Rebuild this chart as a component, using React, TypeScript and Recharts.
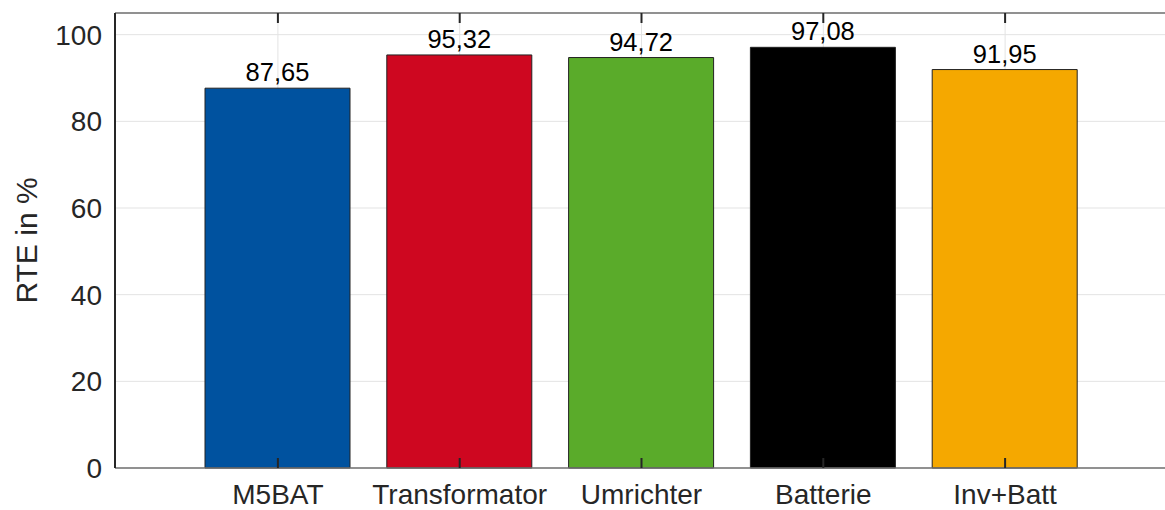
import { BarChart, Bar, XAxis, YAxis, CartesianGrid, Cell, LabelList } from 'recharts';

const categories = ['M5BAT', 'Transformator', 'Umrichter', 'Batterie', 'Inv+Batt'];
const rteValues = [87.65, 95.32, 94.72, 97.08, 91.95];
const barColors = ['#00529F', '#CE0720', '#5AAB2A', '#000000', '#F5A800'];
const yTicks = [0, 20, 40, 60, 80, 100];

const data = categories.map((name, i) => ({ name, rte: rteValues[i] }));

const FONT = '"Liberation Sans", Arial, sans-serif';
const TEXT = '#262626';

const fmt = (v: any) => Number(v).toFixed(2).replace('.', ',');
const blank = () => '';

export default function App() {
  return (
    <div style={{ position: 'absolute', left: 0, top: 0, width: 1165, height: 510, overflow: 'hidden', background: '#fff' }}>
      <BarChart
        width={1175}
        height={510}
        data={data}
        margin={{ top: 13, right: 7, bottom: 0, left: 0 }}
        style={{ fontFamily: FONT }}
      >
        <CartesianGrid stroke="#e3e3e3" strokeWidth={1} />
        <Bar dataKey="rte" barSize={145} stroke="#222" strokeWidth={1} isAnimationActive={false}>
          {data.map((d, i) => (
            <Cell key={d.name} fill={barColors[i]} />
          ))}
          <LabelList
            dataKey="rte"
            position="top"
            offset={7}
            formatter={fmt}
            style={{ fill: '#000', fontSize: 25.5, fontFamily: FONT }}
          />
        </Bar>
        {/* bottom axis with labels */}
        <XAxis
          dataKey="name"
          height={42}
          padding={{ left: 72, right: 72 }}
          tickLine={false}
          tickSize={0}
          tickMargin={16}
          axisLine={{ stroke: '#707070', strokeWidth: 1.5 }}
          tick={{ fill: TEXT, fontSize: 28, fontFamily: FONT }}
          interval={0}
        />
        {/* inward ticks on bottom */}
        <XAxis
          xAxisId="bt"
          dataKey="name"
          mirror
          padding={{ left: 72, right: 72 }}
          axisLine={false}
          tickFormatter={blank}
          tickSize={10}
          tickLine={{ stroke: TEXT, strokeWidth: 2 }}
          interval={0}
        />
        {/* top border with inward ticks */}
        <XAxis
          xAxisId="top"
          orientation="top"
          dataKey="name"
          mirror
          padding={{ left: 72, right: 72 }}
          axisLine={{ stroke: '#707070', strokeWidth: 1.5 }}
          tickFormatter={blank}
          tickSize={10}
          tickLine={{ stroke: TEXT, strokeWidth: 2 }}
          interval={0}
        />
        <YAxis
          width={115}
          domain={[0, 105]}
          ticks={yTicks}
          tickLine={false}
          tickSize={0}
          tickMargin={13}
          axisLine={{ stroke: TEXT, strokeWidth: 2 }}
          tick={{ fill: TEXT, fontSize: 28, fontFamily: FONT }}
          label={{
            value: 'RTE in %',
            angle: -90,
            position: 'insideLeft',
            offset: 26,
            textAnchor: 'middle',
            style: { fill: TEXT, fontSize: 30, fontFamily: FONT, textAnchor: 'middle' },
          }}
        />
        <YAxis
          yAxisId="lt"
          mirror
          domain={[0, 105]}
          ticks={yTicks}
          axisLine={false}
          tickFormatter={blank}
          tickSize={10}
          tickLine={{ stroke: TEXT, strokeWidth: 2 }}
        />
        <YAxis
          yAxisId="rt"
          orientation="right"
          mirror
          domain={[0, 105]}
          ticks={yTicks}
          axisLine={{ stroke: TEXT, strokeWidth: 2 }}
          tickFormatter={blank}
          tickSize={10}
          tickLine={{ stroke: TEXT, strokeWidth: 2 }}
        />
      </BarChart>
    </div>
  );
}
